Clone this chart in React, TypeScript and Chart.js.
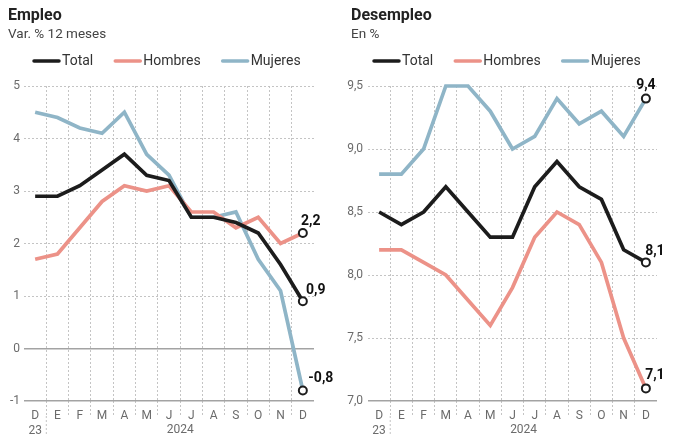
import React, { useEffect, useRef } from 'react';
import { Chart, registerables } from 'chart.js';

Chart.register(...registerables);

// ---------- data ----------
const months = ['D', 'E', 'F', 'M', 'A', 'M', 'J', 'J', 'A', 'S', 'O', 'N', 'D'];
const firstYear = '23';
const secondYear = '2024';
const seriesNames = ['Total', 'Hombres', 'Mujeres'];

const empleoTotal = [2.9, 2.9, 3.1, 3.4, 3.7, 3.3, 3.2, 2.5, 2.5, 2.4, 2.2, 1.6, 0.9];
const empleoHombres = [1.7, 1.8, 2.3, 2.8, 3.1, 3.0, 3.1, 2.6, 2.6, 2.3, 2.5, 2.0, 2.2];
const empleoMujeres = [4.5, 4.4, 4.2, 4.1, 4.5, 3.7, 3.3, 2.5, 2.5, 2.6, 1.7, 1.1, -0.8];

const desempleoTotal = [8.5, 8.4, 8.5, 8.7, 8.5, 8.3, 8.3, 8.7, 8.9, 8.7, 8.6, 8.2, 8.1];
const desempleoHombres = [8.2, 8.2, 8.1, 8.0, 7.8, 7.6, 7.9, 8.3, 8.5, 8.4, 8.1, 7.5, 7.1];
const desempleoMujeres = [8.8, 8.8, 9.0, 9.5, 9.5, 9.3, 9.0, 9.1, 9.4, 9.2, 9.3, 9.1, 9.4];

const empleoTicks = [-1, 0, 1, 2, 3, 4, 5];
const desempleoTicks = [7.0, 7.5, 8.0, 8.5, 9.0, 9.5];

// ---------- styles ----------
const FONT = 'Roboto, "Noto Sans", sans-serif';
const COLORS = ['#1c1c1c', '#ec9288', '#8fb5c7'];
const GRID = '#c4c4c4';
const AXISLINE = '#a3a3a3';
const TICKCOLOR = '#6b6b6b';
const W = 338;
const H = 436;

const fmt = (v: number, decimals: number) => v.toFixed(decimals).replace('.', ',');

// Title, subtitle and line legend, drawn on the chart canvas
const header = {
  id: 'header',
  afterDraw(chart: any, _args: any, opts: any) {
    const ctx = chart.ctx;
    ctx.save();
    ctx.textBaseline = 'middle';
    ctx.textAlign = 'left';
    ctx.fillStyle = '#222222';
    ctx.font = `bold 16px ${FONT}`;
    ctx.fillText(opts.title, opts.titleX, 16);
    ctx.fillStyle = '#444444';
    ctx.font = `13.5px ${FONT}`;
    ctx.fillText(opts.subtitle, opts.titleX, 35);

    ctx.font = `14px ${FONT}`;
    let x = opts.legendX;
    const y = 61;
    chart.data.datasets.forEach((ds: any) => {
      ctx.strokeStyle = ds.borderColor;
      ctx.lineWidth = 3.5;
      ctx.lineCap = 'round';
      ctx.beginPath();
      ctx.moveTo(x + 1, y);
      ctx.lineTo(x + 26, y);
      ctx.stroke();
      x += 29;
      ctx.fillStyle = '#333333';
      ctx.fillText(ds.label, x, y);
      x += ctx.measureText(ds.label).width + 21;
    });
    ctx.restore();
  },
};

const yearLabels = {
  id: 'yearLabels',
  afterDraw(chart: any, _args: any, opts: any) {
    const ctx = chart.ctx;
    const xs = chart.scales.x;
    const bottom = chart.chartArea.bottom;
    ctx.save();
    const sep = (xs.getPixelForValue(0) + xs.getPixelForValue(1)) / 2;
    ctx.strokeStyle = GRID;
    ctx.lineWidth = 1;
    ctx.setLineDash([2, 2]);
    ctx.beginPath();
    ctx.moveTo(sep, bottom + 15);
    ctx.lineTo(sep, bottom + 35);
    ctx.stroke();
    ctx.setLineDash([]);
    const mid = (xs.getPixelForValue(6) + xs.getPixelForValue(7)) / 2;
    ctx.font = `12px ${FONT}`;
    ctx.fillStyle = TICKCOLOR;
    ctx.textAlign = 'center';
    ctx.textBaseline = 'middle';
    ctx.fillText(opts.text, mid, bottom + 29);
    ctx.restore();
  },
};

const endLabels = {
  id: 'endLabels',
  afterDatasetsDraw(chart: any, _args: any, opts: any) {
    const ctx = chart.ctx;
    ctx.save();
    ctx.font = `bold 14px ${FONT}`;
    ctx.fillStyle = '#111111';
    ctx.textAlign = 'center';
    ctx.textBaseline = 'middle';
    chart.data.datasets.forEach((ds: any, i: number) => {
      const meta = chart.getDatasetMeta(i);
      const last = meta.data[meta.data.length - 1];
      const v = ds.data[ds.data.length - 1];
      const off = opts.offsets[i];
      ctx.fillText(fmt(v, 1), last.x + off[0], last.y + off[1]);
    });
    ctx.restore();
  },
};

function makeConfig(p: any) {
  const series = p.series as number[][];
  const min = p.ticks[0];
  const max = p.ticks[p.ticks.length - 1];
  const isBase = (c: any) => c.tick && ((c.tick.value === 0 && min < 0) || c.tick.value === min);
  return {
    type: 'line',
    data: {
      labels: months.map((m, i) => (i === 0 ? [m, firstYear] : m)),
      datasets: series.map((s, i) => ({
        label: seriesNames[i],
        data: s,
        borderColor: COLORS[i],
        backgroundColor: COLORS[i],
        borderWidth: 3.7,
        tension: 0,
        clip: false,
        pointRadius: (c: any) => (c.dataIndex === s.length - 1 ? 4 : 0),
        pointHoverRadius: 0,
        pointBackgroundColor: '#ffffff',
        pointBorderColor: '#1c1c1c',
        pointBorderWidth: 2,
      })),
    },
    options: {
      responsive: false,
      animation: false,
      events: [],
      layout: { padding: { left: 0, right: p.padRight, top: 86, bottom: 0 } },
      plugins: {
        legend: { display: false },
        tooltip: { enabled: false },
        title: { display: false },
        header: { title: p.title, subtitle: p.subtitle, titleX: p.titleX, legendX: p.legendX },
        yearLabels: { text: secondYear },
        endLabels: { offsets: p.offsets },
      },
      scales: {
        x: {
          type: 'category',
          offset: true,
          afterFit: (s: any) => {
            s.height = 35;
            s.paddingLeft = 0;
            s.paddingRight = 0;
          },
          grid: {
            offset: true,
            color: (c: any) => (c.index === 0 || c.index === undefined ? 'rgba(0,0,0,0)' : GRID),
            lineWidth: 1,
            drawTicks: true,
            tickLength: 15,
            tickColor: (c: any) => (c.index === 0 || c.index === undefined ? 'rgba(0,0,0,0)' : GRID),
            tickWidth: 1,
            tickBorderDash: [2, 2],
          },
          border: { display: false, dash: [2, 2] },
          ticks: {
            color: TICKCOLOR,
            font: { family: FONT, size: 12, lineHeight: 1.2 },
            padding: -7.0,
            maxRotation: 0,
            autoSkip: false,
          },
        },
        y: {
          min,
          max,
          afterFit: (s: any) => {
            s.width = p.yWidth;
            s.paddingTop = 0;
            s.paddingBottom = 0;
          },
          afterBuildTicks: (s: any) => {
            s.ticks = p.ticks.map((v: number) => ({ value: v }));
          },
          grid: {
            color: (c: any) => (isBase(c) ? AXISLINE : GRID),
            lineWidth: (c: any) => (isBase(c) ? 1.5 : 1),
            drawTicks: false,
          },
          border: {
            display: false,
            dash: (c: any) => (isBase(c) ? [] : [2, 2]),
          },
          ticks: {
            color: TICKCOLOR,
            font: { family: FONT, size: 12 },
            padding: p.yPad,
            callback: (v: any) => fmt(Number(v), p.decimals),
          },
        },
      },
    },
    plugins: [header, yearLabels, endLabels],
  };
}

function Panel({ config, left }: { config: any; left: number }) {
  const ref = useRef<HTMLCanvasElement | null>(null);
  useEffect(() => {
    const chart = new Chart(ref.current as HTMLCanvasElement, config);
    return () => chart.destroy();
  }, [config]);
  return (
    <canvas
      ref={ref}
      width={W}
      height={H}
      style={{ position: 'absolute', left, top: 0, width: W, height: H }}
    />
  );
}

const empleoConfig = makeConfig({
  title: 'Empleo',
  subtitle: 'Var. % 12 meses',
  series: [empleoTotal, empleoHombres, empleoMujeres],
  ticks: empleoTicks,
  decimals: 0,
  padRight: 24,
  yWidth: 24,
  yPad: 4,
  titleX: 8,
  legendX: 33,
  offsets: [[13, -11], [8, -12], [18, -12]],
});

const desempleoConfig = makeConfig({
  title: 'Desempleo',
  subtitle: 'En %',
  series: [desempleoTotal, desempleoHombres, desempleoMujeres],
  ticks: desempleoTicks,
  decimals: 1,
  padRight: 19,
  yWidth: 30,
  yPad: 5,
  titleX: 13,
  legendX: 35,
  offsets: [[9, -11], [9, -13], [0, -13]],
});

export default function App() {
  return (
    <div style={{ position: 'absolute', left: 0, top: 0, width: 676, height: 436, background: '#ffffff' }}>
      <Panel config={empleoConfig} left={0} />
      <Panel config={desempleoConfig} left={338} />
    </div>
  );
}
